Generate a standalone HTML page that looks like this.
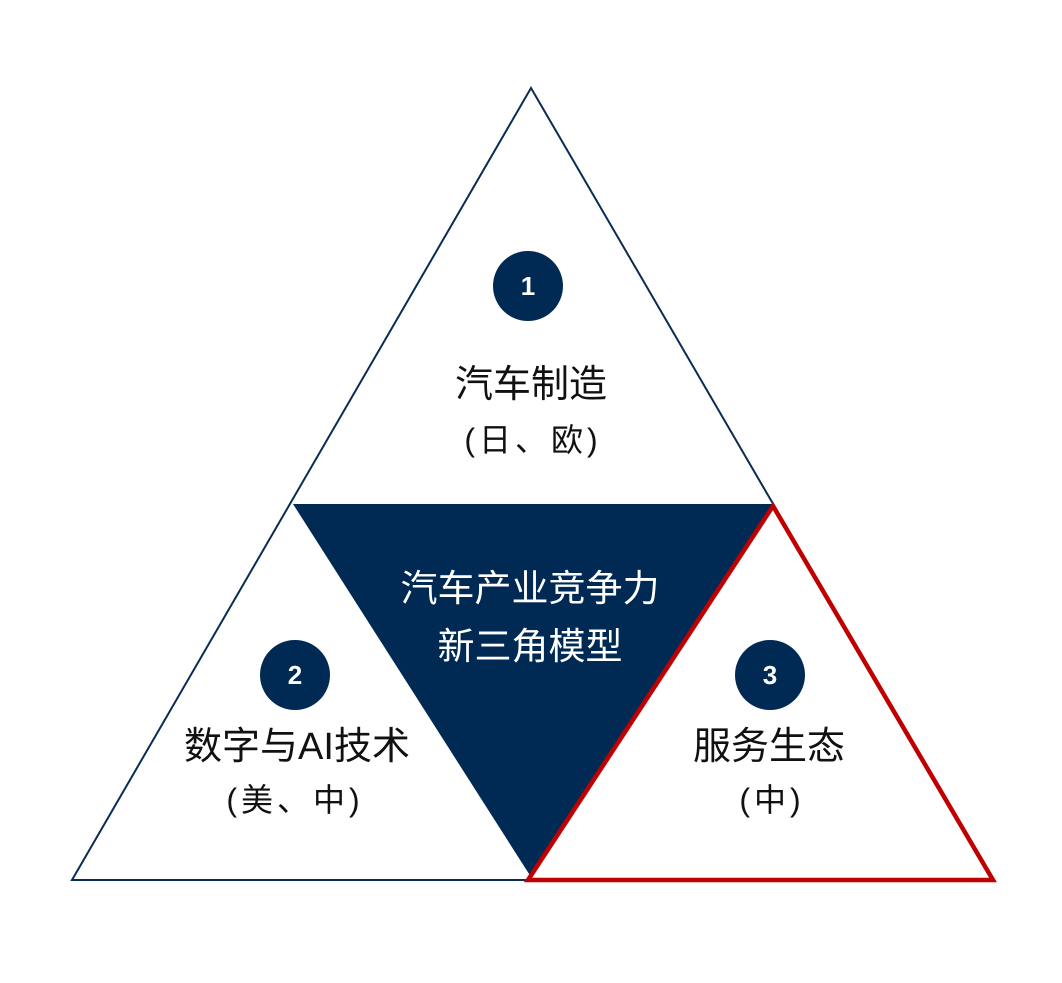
<!DOCTYPE html>
<html><head><meta charset="utf-8"><style>
body{margin:0;background:#fff;}
svg text{font-family:"Liberation Sans","Noto Sans CJK SC",sans-serif;}
</style></head><body>
<svg width="1062" height="978" viewBox="0 0 1062 978" xmlns="http://www.w3.org/2000/svg">
<polygon points="531,88 72,880 992,880" fill="#fff" stroke="#0a2c55" stroke-width="2"/>
<polygon points="293,504 773,504 531,877" fill="#002a54"/>
<polygon points="773,506 528,880 993,880" fill="none" stroke="#c00000" stroke-width="4.5"/>
<circle cx="528" cy="286" r="35" fill="#002a54"/>
<circle cx="295" cy="675" r="35" fill="#002a54"/>
<circle cx="770" cy="675" r="35" fill="#002a54"/>
<g fill="#fff" font-weight="bold" font-size="26" text-anchor="middle">
<text x="528" y="295">1</text><text x="295" y="684">2</text><text x="770" y="684">3</text>
</g>
<g text-anchor="middle" font-size="38" fill="#111">
<text x="531" y="397">汽车制造</text>
<text x="297" y="759">数字与AI技术</text>
<text x="769" y="759">服务生态</text>
</g>
<g text-anchor="middle" font-size="32" fill="#111" letter-spacing="4">
<text x="533" y="451">(日、欧)</text>
<text x="295" y="811">(美、中)</text>
<text x="772" y="811">(中)</text>
</g>
<g text-anchor="middle" font-size="37" fill="#fff">
<text x="530" y="601">汽车产业竞争力</text>
<text x="530" y="659">新三角模型</text>
</g>
</svg>
</body></html>
